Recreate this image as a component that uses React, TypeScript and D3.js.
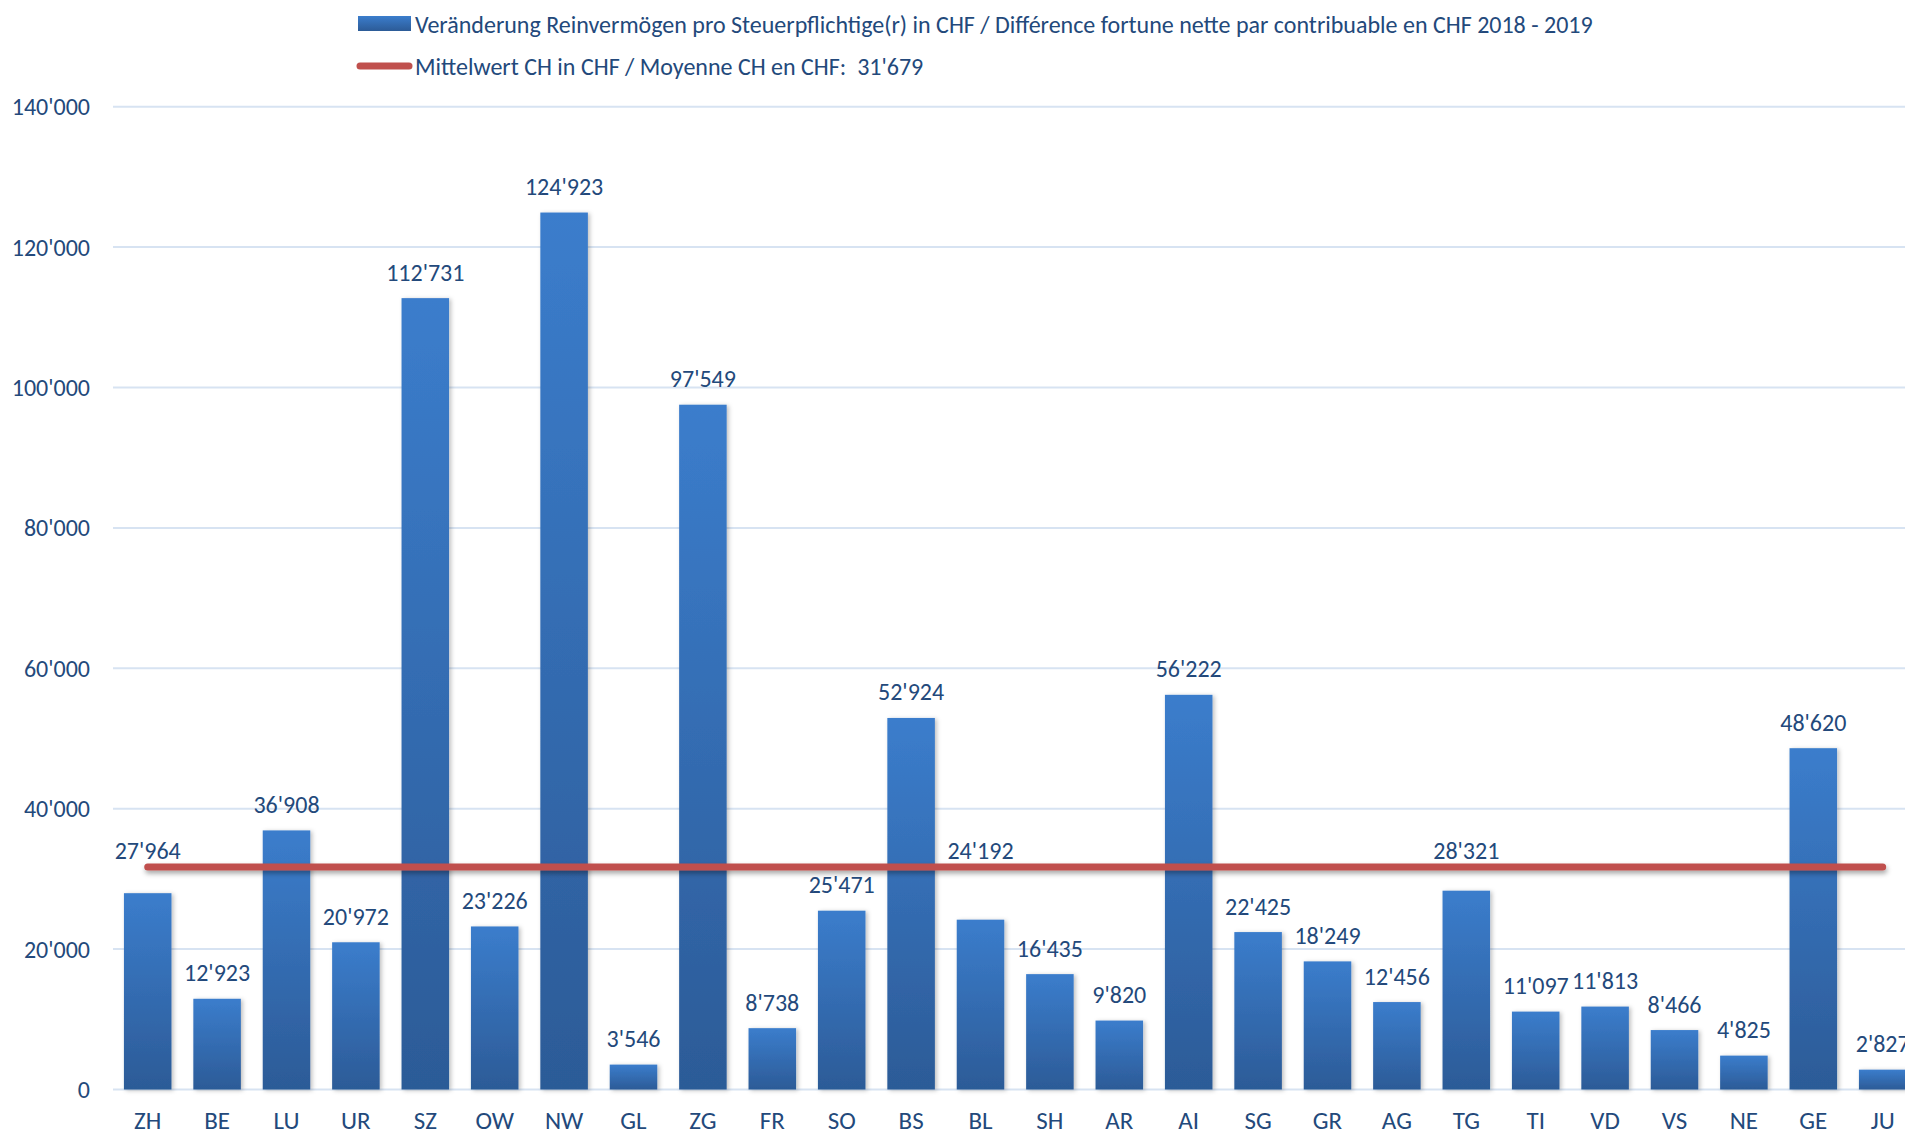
import { useEffect } from "react";
import * as d3 from "d3";

const cantons = [
  "ZH", "BE", "LU", "UR", "SZ", "OW", "NW", "GL", "ZG", "FR", "SO", "BS", "BL",
  "SH", "AR", "AI", "SG", "GR", "AG", "TG", "TI", "VD", "VS", "NE", "GE", "JU",
];
const changeValues = [
  27964, 12923, 36908, 20972, 112731, 23226, 124923, 3546, 97549, 8738, 25471,
  52924, 24192, 16435, 9820, 56222, 22425, 18249, 12456, 28321, 11097, 11813,
  8466, 4825, 48620, 2827,
];
const meanValue = 31679;
const yTicks = [0, 20000, 40000, 60000, 80000, 100000, 120000, 140000];
const barLegend =
  "Veränderung Reinvermögen pro Steuerpflichtige(r) in CHF / Différence fortune nette par contribuable en CHF 2018 - 2019";
const lineLegend = "Mittelwert CH in CHF / Moyenne CH en CHF:  31'679";
// labels that Excel placed above the mean line
const labelsAboveMean = ["ZH", "BL", "TG"];

const textColor = "#23497b";
const font = "Calibri, Carlito, Lato, sans-serif";

const fmt = d3.formatLocale({
  decimal: ".",
  thousands: "'",
  grouping: [3],
  currency: ["", ""],
}).format(",d");

function App() {
  useEffect(() => {
    document.body.style.margin = "0";
    document.body.style.overflow = "hidden";
  }, []);

  const width = 1905;
  const height = 1135;
  const plotLeft = 113;

  const x = d3
    .scaleBand()
    .domain(cantons)
    .range([plotLeft, plotLeft + 26 * 69.4])
    .paddingInner(0.315)
    .paddingOuter(0.1575);
  const y = d3.scaleLinear().domain([0, 140000]).range([1089.5, 106.7]);

  const data = cantons.map((c, i) => ({ canton: c, value: changeValues[i] }));
  const meanY = y(meanValue);

  const meanLine = d3
    .line<string>()
    .x((c) => x(c)! + x.bandwidth() / 2)
    .y(() => meanY);

  return (
    <svg width={width} height={height} style={{ display: "block" }}>
      <defs>
        <linearGradient id="barFill" x1="0" y1="0" x2="0" y2="1">
          <stop offset="0%" stopColor="#3b7dcc" />
          <stop offset="100%" stopColor="#2c5b97" />
        </linearGradient>
        <filter id="barShadow" x="-20%" y="-5%" width="150%" height="115%">
          <feDropShadow dx="2" dy="1" stdDeviation="2" floodColor="#000" floodOpacity="0.25" />
        </filter>
        <filter id="lineShadow" filterUnits="userSpaceOnUse" x={0} y={meanY - 30} width={width} height={60}>
          <feDropShadow dx="1" dy="3" stdDeviation="2.5" floodColor="#000" floodOpacity="0.35" />
        </filter>
      </defs>
      <rect width={width} height={height} fill="#fff" />

      {/* legend */}
      <rect x={358} y={16} width={53} height={15} fill="url(#barFill)" />
      <text x={415} y={24} fontFamily={font} fontSize={24} fill={textColor} dominantBaseline="central">
        {barLegend}
      </text>
      <line x1={360} x2={409} y1={66} y2={66} stroke="#c0504d" strokeWidth={7} strokeLinecap="round" />
      <text
        x={415}
        y={66}
        fontFamily={font}
        fontSize={24}
        fill={textColor}
        dominantBaseline="central"
        style={{ whiteSpace: "pre" }}
      >
        {lineLegend}
      </text>

      {/* grid + y axis */}
      <g>
        {yTicks.map((t) => (
          <g key={t}>
            <line x1={plotLeft} x2={width} y1={y(t)} y2={y(t)} stroke="#d7e3f2" strokeWidth={2} />
            <text
              x={90}
              y={y(t)}
              textAnchor="end"
              dominantBaseline="central"
              fontFamily={font}
              fontSize={24}
              fill={textColor}
            >
              {fmt(t)}
            </text>
          </g>
        ))}
      </g>

      {/* bars */}
      <g fill="url(#barFill)" filter="url(#barShadow)">
        {data.map((d) => (
          <rect
            key={d.canton}
            x={x(d.canton)}
            width={x.bandwidth()}
            y={y(d.value)}
            height={y(0) - y(d.value)}
          />
        ))}
      </g>

      {/* mean line */}
      <path
        d={meanLine(cantons) ?? ""}
        fill="none"
        stroke="#c0504d"
        strokeWidth={7}
        strokeLinecap="round"
        filter="url(#lineShadow)"
      />

      {/* data labels */}
      <g fontFamily={font} fontSize={24} fill={textColor} textAnchor="middle">
        {data.map((d) => (
          <text
            key={d.canton}
            x={x(d.canton)! + x.bandwidth() / 2}
            y={labelsAboveMean.includes(d.canton) ? meanY - 17 : y(d.value) - 26}
            dominantBaseline="central"
          >
            {fmt(d.value)}
          </text>
        ))}
      </g>

      {/* x axis labels */}
      <g fontFamily={font} fontSize={25} fill={textColor} textAnchor="middle">
        {cantons.map((c) => (
          <text key={c} x={x(c)! + x.bandwidth() / 2} y={1120} dominantBaseline="central">
            {c}
          </text>
        ))}
      </g>
    </svg>
  );
}

export default App;
